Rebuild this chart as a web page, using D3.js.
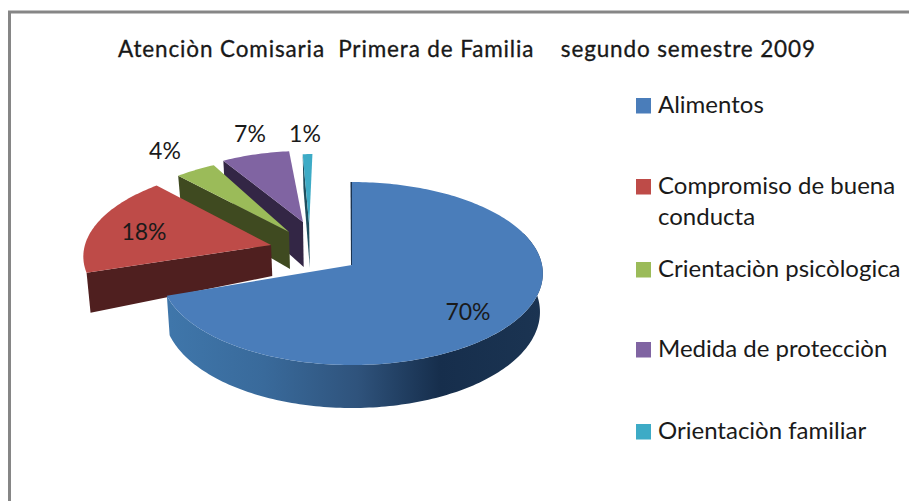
<!DOCTYPE html>
<html>
<head>
<meta charset="utf-8">
<script src="https://cdn.jsdelivr.net/npm/d3@7/dist/d3.min.js"></script>
<style>
html,body{margin:0;padding:0;background:#fff;}
svg{display:block;}
text{font-family:"Lato","Open Sans",sans-serif;fill:#1a1a1a;}
</style>
</head>
<body>
<svg id="c" width="909" height="501"></svg>
<script>
const titleText = "Atenciòn Comisaria  Primera de Familia    segundo semestre 2009";
const categories = ["Alimentos", "Compromiso de buena conducta", "Crientaciòn psicòlogica", "Medida de protecciòn", "Orientaciòn familiar"];
const values = [70, 18, 4, 7, 1];
const valueLabels = ["70%", "18%", "4%", "7%", "1%"];

const topColors = ["#4a7dba", "#be4b48", "#9bbb59", "#8064a2", "#3dabc6"];
const wallColors = ["#1b3452", "#4f1f1f", "#3f4a20", "#332645", "#1e4e5e"];
// explosion offset, radius factor, wall depth at apex, angular nudges and label anchor for each slice
const explodeU = [0, -0.435, -0.343, -0.27, -0.235];
const explodeV = [0, -0.225, -0.376, -0.496, -0.46];
const radiusFactor = [1, 1, 0.97, 0.93, 0.92];
const apexDepth = [40, 31, 37, 45, 43];
const angleNudge = [0, 0, 0, -0.05, 0];
const endTrim = [-0.02, 0, 0, 0, 0];
const labelX = [468, 144, 165, 250, 305];
const labelY = [320, 240, 159, 142, 142];
const legendRowY = [106, 187, 270, 350, 432];

const svg = d3.select("#c");
const cx = 352, cy = 265, persp = 0.093;
const sx = d3.scaleLinear().domain([-1, 1]).range([cx - 190, cx + 190]);
const sy = d3.scaleLinear().domain([-1, 1]).range([cy - 90.7, cy + 90.7]);
const project = (u, v) => {
  const s = 1 / (1 - persp * v);
  return [sx(u * s), sy(v * s)];
};
const line = d3.line();
const pieLayout = d3.pie().sort(null).startAngle(0).endAngle(2 * Math.PI).value(d => d);
const arcs = pieLayout(values);

function rimPoint(i, a) {
  const r = radiusFactor[i];
  return project(explodeU[i] + r * Math.sin(a), explodeV[i] - r * Math.cos(a));
}
function apex(i) { return project(explodeU[i], explodeV[i]); }
function rimPoints(i, a0, a1) {
  const n = Math.max(2, Math.ceil(Math.abs(a1 - a0) / 0.02));
  return d3.range(n + 1).map(k => rimPoint(i, a0 + (a1 - a0) * k / n));
}
// drop a point to the lower disc
function drop(p, depth) {
  return [p[0] - (p[0] - cx) * 0.015, p[1] + depth];
}
function rimDepth(p) { return 38 + 5 * (p[1] - cy) / 100; }

// frame
svg.append("path")
  .attr("d", "M9.5,501V12H909")
  .attr("fill", "none").attr("stroke", "#868686").attr("stroke-width", 3);

// title
svg.append("text").attr("x", 118).attr("y", 57)
  .attr("font-size", 22.5).attr("stroke", "#111").attr("stroke-width", 0.3)
  .attr("xml:space", "preserve").style("white-space", "pre")
  .attr("textLength", 697).attr("lengthAdjust", "spacing")
  .text(titleText);

// gradient of the big wall
const grad = svg.append("defs").append("linearGradient").attr("id", "wall")
  .attr("gradientUnits", "userSpaceOnUse")
  .attr("x1", 170).attr("x2", 545).attr("y1", 0).attr("y2", 0);
[[0, "#3f76aa"], [0.25, "#396a9b"], [0.5, "#2f537c"], [0.72, "#162e4c"], [1, "#1b3452"]]
  .forEach(s => grad.append("stop").attr("offset", s[0]).attr("stop-color", s[1]));

const pie = svg.append("g");
// back to front: the smallest slice first
[4, 3, 2, 1, 0].forEach(i => {
  const d = arcs[i];
  const start = d.startAngle + angleNudge[i];
  const end = d.endAngle + angleNudge[i] + endTrim[i];
  const A = apex(i);
  const dA = drop(A, apexDepth[i]);
  if (i === 0) {
    const rim = rimPoints(0, 1.2, end);
    const low = rim.map(p => drop(p, rimDepth(p))).reverse();
    pie.append("path").attr("d", line(rim.concat(low)) + "Z").attr("fill", "url(#wall)");
    const top = rimPoint(0, 0);
    pie.append("path").attr("d", line([[top[0] - 1.5, top[1]], [A[0] - 1, A[1]], [A[0] + 1, A[1]], [top[0] + 1, top[1]]]) + "Z")
      .attr("fill", wallColors[0]);
  } else {
    const E = rimPoint(i, start);
    const dE = drop(E, i === 1 ? 40 : apexDepth[i] * 0.8);
    pie.append("path").attr("d", line([A, E, dE, dA]) + "Z").attr("fill", wallColors[i]);
  }
  const face = [A].concat(rimPoints(i, start, end));
  pie.append("path").attr("d", line(face) + "Z").attr("fill", topColors[i]);
});

// value labels
svg.append("g").selectAll("text").data(valueLabels).join("text")
  .attr("x", (d, i) => labelX[i]).attr("y", (d, i) => labelY[i])
  .attr("text-anchor", "middle").attr("font-size", 23).text(d => d);

// legend
const legend = svg.append("g").selectAll("g").data(categories).join("g")
  .attr("transform", (d, i) => `translate(636,${legendRowY[i]})`);
legend.append("rect").attr("y", -8).attr("width", 15).attr("height", 15.5)
  .attr("fill", (d, i) => topColors[i]);
legend.each(function (d) {
  const g = d3.select(this);
  const parts = d === "Compromiso de buena conducta" ? ["Compromiso de buena", "conducta"] : [d];
  parts.forEach((t, k) => g.append("text").attr("x", 22).attr("y", 7 + k * 31)
    .attr("font-size", 24).text(t));
});
</script>
</body>
</html>
